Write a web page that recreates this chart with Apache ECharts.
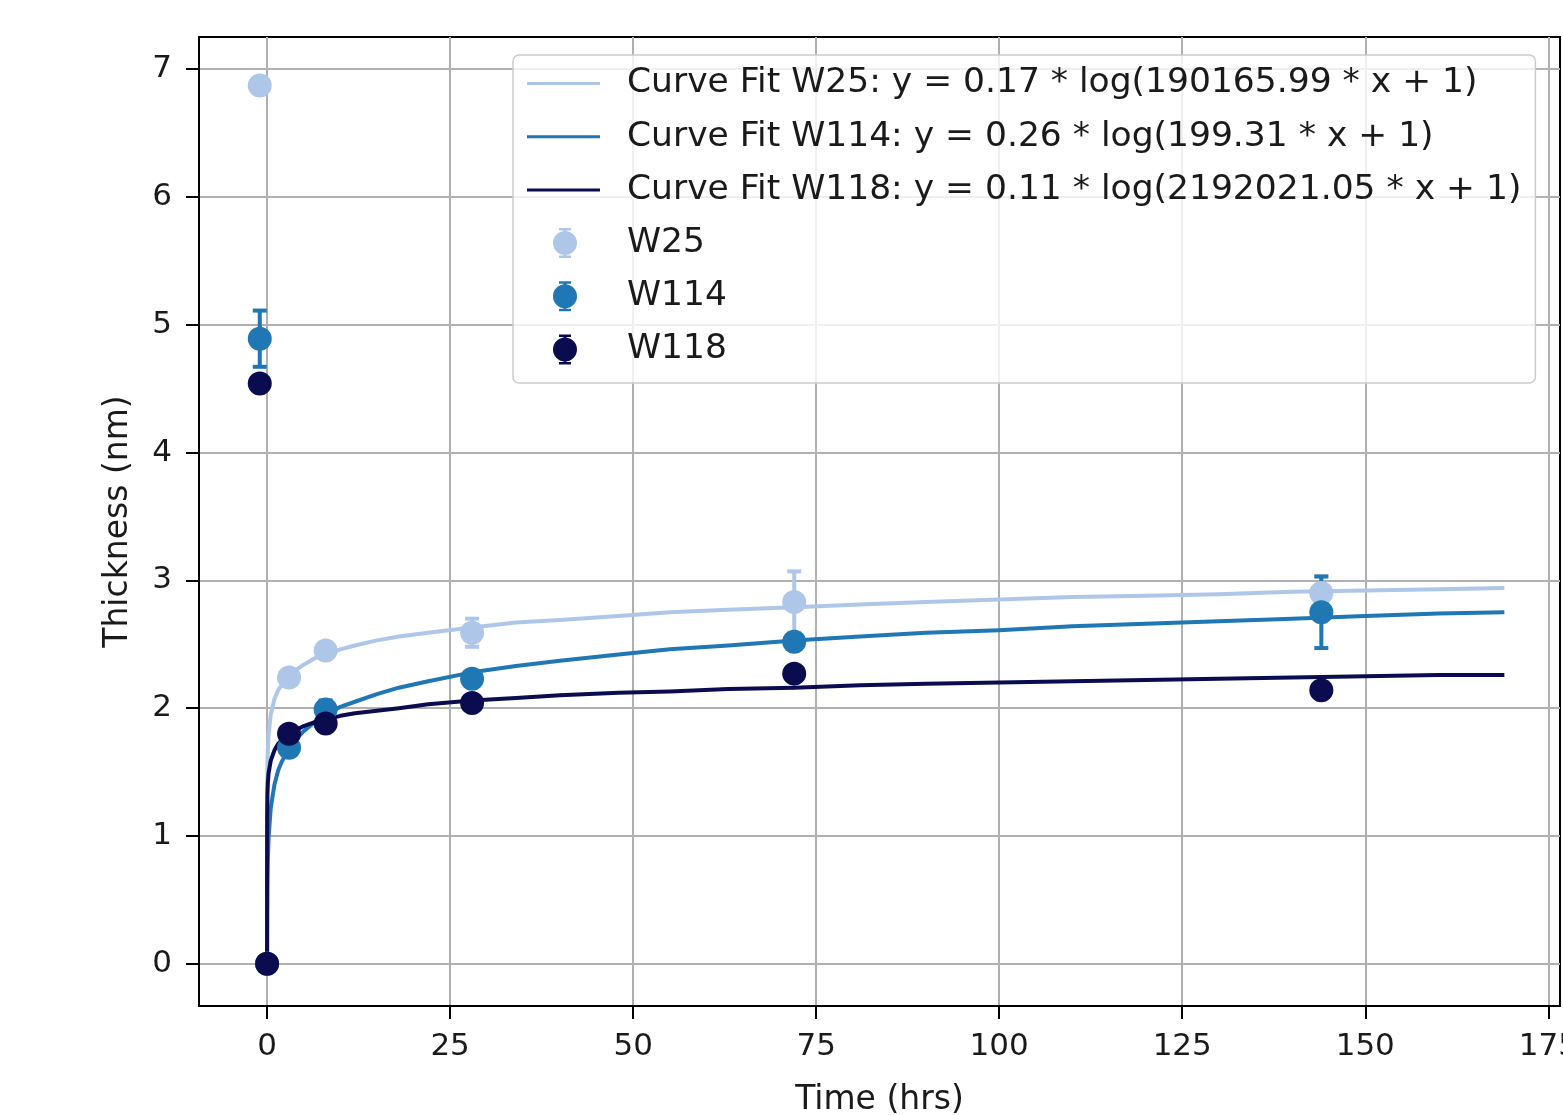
<!DOCTYPE html>
<html>
<head>
<meta charset="utf-8">
<script src="https://cdn.jsdelivr.net/npm/echarts@6/dist/echarts.min.js"></script>
<style>
html,body{margin:0;padding:0;background:#fff}
#chart{width:1563px;height:1115px}
</style>
</head>
<body>
<div id="chart"></div>
<script>
// measured points (time in hrs)
var timePoints = [-1, 0, 3, 8, 28, 72, 144]
var w25Mean = [6.87, 0, 2.24, 2.45, 2.59, 2.83, 2.90]
var w25Err = [0, 0, 0, 0, 0.11, 0.24, 0.13]
var w114Mean = [4.89, 0, 1.69, 1.99, 2.23, 2.52, 2.75]
var w114Err = [0.22, 0, 0, 0.07, 0, 0, 0.28]
var w118Mean = [4.54, 0, 1.80, 1.88, 2.04, 2.27, 2.14]
var w118Err = [0, 0, 0, 0, 0, 0, 0]

// fitted curves
var fitTime = [0, 0.001, 0.01, 0.05, 0.1, 0.2, 0.5, 1, 1.5, 2, 3, 4, 5, 6.5, 8, 10, 12, 15, 18, 22, 28, 34, 40, 48, 55, 63, 72, 81, 90, 100, 110, 120, 130, 140, 150, 160, 169]
var w25Fit = [0, 0.89, 1.28, 1.56, 1.67, 1.79, 1.95, 2.07, 2.14, 2.18, 2.25, 2.30, 2.34, 2.39, 2.42, 2.46, 2.49, 2.53, 2.56, 2.59, 2.63, 2.67, 2.69, 2.72, 2.75, 2.77, 2.79, 2.81, 2.83, 2.85, 2.87, 2.88, 2.89, 2.91, 2.92, 2.93, 2.94]
var w114Fit = [0, 0.05, 0.29, 0.63, 0.80, 0.98, 1.22, 1.40, 1.51, 1.58, 1.69, 1.76, 1.82, 1.89, 1.95, 2.01, 2.05, 2.11, 2.16, 2.21, 2.28, 2.33, 2.37, 2.42, 2.46, 2.49, 2.53, 2.56, 2.59, 2.61, 2.64, 2.66, 2.68, 2.70, 2.72, 2.74, 2.75]
var w118Fit = [0, 0.88, 1.15, 1.33, 1.41, 1.49, 1.59, 1.67, 1.72, 1.75, 1.80, 1.83, 1.86, 1.89, 1.91, 1.94, 1.96, 1.98, 2.00, 2.03, 2.06, 2.08, 2.10, 2.12, 2.13, 2.15, 2.16, 2.18, 2.19, 2.20, 2.21, 2.22, 2.23, 2.24, 2.25, 2.26, 2.26]

var fitNames = [
    "Curve Fit W25: y = 0.17 * log(190165.99 * x + 1)",
    "Curve Fit W114: y = 0.26 * log(199.31 * x + 1)",
    "Curve Fit W118: y = 0.11 * log(2192021.05 * x + 1)"
]
var pointNames = ["W25", "W114", "W118"]
var colors = ["#aec7e8", "#1f77b4", "#0b0b4f"]

var xTicks = [0, 25, 50, 75, 100, 125, 150, 175]
var yTicks = [0, 1, 2, 3, 4, 5, 6, 7]

var FONT = "DejaVu Sans"

var lineIcon = "path://M0,13.5L73,13.5L73,16.5L0,16.5Z M0,0L0.01,0L0,0.01Z M95,30L95.01,30L95,30.01Z"
var errIcon = "path://M26,15A12,12 0 1,1 50,15A12,12 0 1,1 26,15Z M36.5,1L39.5,1L39.5,29L36.5,29Z M32,0L44,0L44,2.5L32,2.5Z M32,27.5L44,27.5L44,30L32,30Z M0,0L0.01,0L0,0.01Z M95,30L95.01,30L95,30.01Z"

function pairs(xs, ys){
    return xs.map(function(x, i){ return [x, ys[i]] })
}
function errData(xs, ys, es){
    return xs.map(function(x, i){ return [x, ys[i], es[i]] })
}

function errRender(params, api){
    var x = api.value(0), y = api.value(1), e = api.value(2)
    if (!e) return null
    var top = api.coord([x, y + e])
    var bot = api.coord([x, y - e])
    var color = api.visual("color")
    var st = {stroke: color, lineWidth: 4}
    return {
        type: "group",
        children: [
            {type: "line", shape: {x1: top[0], y1: top[1], x2: bot[0], y2: bot[1]}, style: st},
            {type: "line", shape: {x1: top[0] - 7, y1: top[1], x2: top[0] + 7, y2: top[1]}, style: st},
            {type: "line", shape: {x1: bot[0] - 7, y1: bot[1], x2: bot[0] + 7, y2: bot[1]}, style: st}
        ]
    }
}

var means = [w25Mean, w114Mean, w118Mean]
var errs = [w25Err, w114Err, w118Err]
var fits = [w25Fit, w114Fit, w118Fit]

var series = []
fits.forEach(function(f, i){
    series.push({
        name: fitNames[i],
        type: "line",
        data: pairs(fitTime, f),
        showSymbol: false,
        symbol: "none",
        lineStyle: {color: colors[i], width: 4, join: "round"},
        itemStyle: {color: colors[i]},
        animation: false,
        z: 2
    })
})
means.forEach(function(m, i){
    series.push({
        name: pointNames[i],
        type: "custom",
        renderItem: errRender,
        data: errData(timePoints, m, errs[i]),
        itemStyle: {color: colors[i]},
        encode: {x: 0, y: 1},
        clip: false,
        animation: false,
        z: 3
    })
    series.push({
        name: pointNames[i],
        type: "scatter",
        data: pairs(timePoints, m),
        symbolSize: 24,
        itemStyle: {color: colors[i], opacity: 1},
        clip: false,
        animation: false,
        z: 3
    })
})

var chart = echarts.init(document.getElementById("chart"))
chart.setOption({
    backgroundColor: "#fff",
    animation: false,
    textStyle: {fontFamily: FONT},
    grid: {
        left: 199, top: 37, width: 1361, height: 969,
        outerBoundsMode: "none",
        containLabel: false,
        show: true, borderColor: "#000", borderWidth: 2, backgroundColor: "transparent"
    },
    legend: {
        orient: "vertical",
        left: 513,
        top: 55,
        padding: [11, 14, 16, 14],
        itemGap: 18.2,
        itemWidth: 95,
        itemHeight: 30,
        backgroundColor: "rgba(255,255,255,0.8)",
        borderColor: "#cccccc",
        borderWidth: 1.5,
        borderRadius: 6,
        textStyle: {fontFamily: FONT, fontSize: 34.5, color: "#1a1a1a", lineHeight: 34, padding: [0, 0, 0, 0]},
        data: [
            {name: fitNames[0], icon: lineIcon},
            {name: fitNames[1], icon: lineIcon},
            {name: fitNames[2], icon: lineIcon},
            {name: pointNames[0], icon: errIcon},
            {name: pointNames[1], icon: errIcon},
            {name: pointNames[2], icon: errIcon}
        ]
    },
    xAxis: {
        type: "value",
        min: -9.3,
        max: 176.6,
        name: "Time (hrs)",
        nameLocation: "middle",
        nameGap: 78,
        nameTextStyle: {fontFamily: FONT, fontSize: 33, color: "#1a1a1a"},
        axisLine: {show: true, onZero: false, lineStyle: {color: "#000", width: 2}},
        axisTick: {show: true, length: 13, customValues: xTicks, lineStyle: {color: "#000", width: 2}},
        axisLabel: {margin: 25, fontFamily: FONT, fontSize: 31, color: "#1a1a1a", customValues: xTicks},
        splitLine: {show: true, lineStyle: {color: "#b0b0b0", width: 2}}
    },
    yAxis: {
        type: "value",
        min: -0.33,
        max: 7.25,
        name: "Thickness (nm)",
        nameLocation: "middle",
        nameGap: 64,
        nameTextStyle: {fontFamily: FONT, fontSize: 33, color: "#1a1a1a"},
        axisLine: {show: true, onZero: false, lineStyle: {color: "#000", width: 2}},
        axisTick: {show: true, length: 13, customValues: yTicks, lineStyle: {color: "#000", width: 2}},
        axisLabel: {margin: 27, fontFamily: FONT, fontSize: 31, color: "#1a1a1a", customValues: yTicks},
        splitLine: {show: true, lineStyle: {color: "#b0b0b0", width: 2}}
    },
    series: series
})
</script>
</body>
</html>
